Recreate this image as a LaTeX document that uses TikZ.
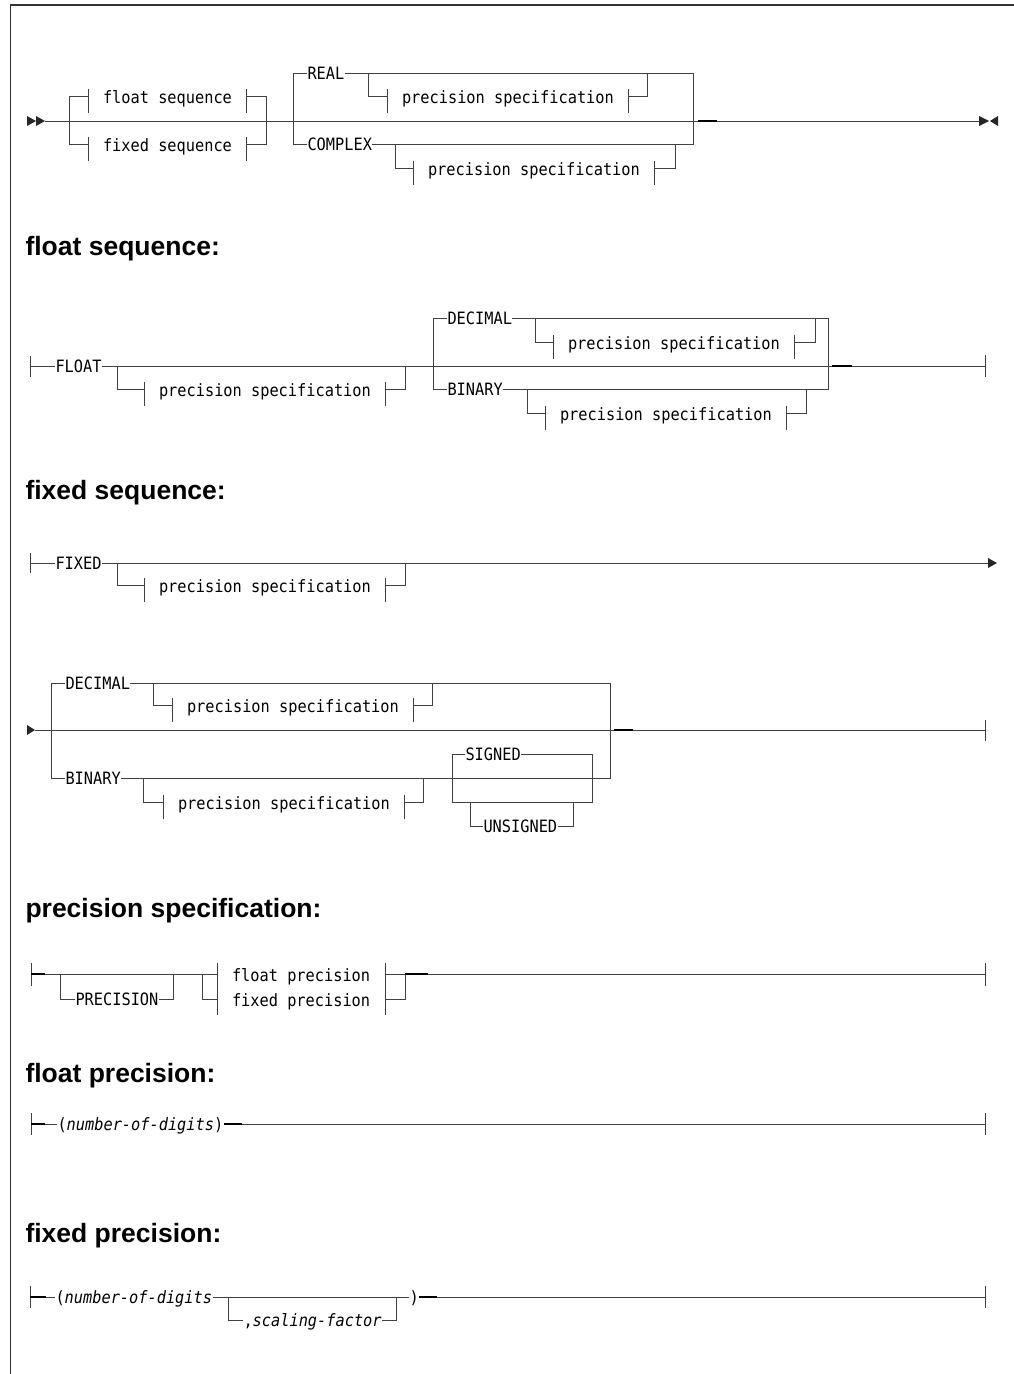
\documentclass[tikz,border=0pt]{standalone}
\usepackage{fontspec}
\setmainfont{Liberation Sans}
\setmonofont{DejaVu Sans Mono}[FakeStretch=0.9]
\usetikzlibrary{positioning}

\newcommand\diagfont{\ttfamily\fontsize{17}{20}\selectfont}
\newcommand\headfont{\bfseries\fontsize{26.5}{30}\selectfont}
% bars on both sides of a reference box
\newcommand\bars[1]{\draw (#1.north west) -- ++(0,24) (#1.north east) -- ++(0,24);}

\begin{document}
\begin{tikzpicture}[x=1pt,y=-1pt,line width=1pt,color=black!75]
\tikzstyle{kw}=[font=\diagfont, text=black, inner sep=0pt, text height=12.4pt, text depth=0pt, anchor=west]
\tikzstyle{nt}=[font=\diagfont, text=black, inner xsep=14.5pt, inner ysep=0pt, text height=14pt, text depth=0pt, anchor=west]
\tikzstyle{hd}=[font=\headfont, text=black, inner sep=0pt, anchor=base west]
\tikzstyle{thk}=[line width=2pt, draw=black]
\tikzstyle{tip}=[fill=black!85]

\useasboundingbox (0,0) rectangle (1014,1374);
\draw[line width=1.3pt, black!80] (10.5,1374) -- (10.5,5) -- (1014,5);

% main statement
\fill[tip] (27,116) -- (36,121) -- (27,126) -- cycle (36,116) -- (45,121) -- (36,126) -- cycle;
\draw (45,121) -- (979,121);
\fill[tip] (979,116) -- (989,121) -- (979,126) -- cycle (998,116) -- (990,121) -- (998,126) -- cycle;
\node[nt] (fseq) at (88,96) {float sequence};
\node[nt] (xseq) at (88,144) {fixed sequence};
\bars{fseq} \bars{xseq}
\draw (fseq.west) -| (69,144) -- (xseq.west);
\draw (fseq.east) -| (266,144) -- (xseq.east);
\node[kw] (real) at (307,73) {REAL};
\node[kw] (cplx) at (307,144) {COMPLEX};
\draw (real.west) -| (293,144) -- (cplx.west);
\draw (real.east) -| (693,144) -- (cplx.east);
\node[nt] (rprec) at (387,96) {precision specification};
\node[nt] (cprec) at (413,168) {precision specification};
\bars{rprec} \bars{cprec}
\draw (368,73) |- (rprec.west) (rprec.east) -| (647,73);
\draw (395,144) |- (cprec.west) (cprec.east) -| (675,144);
\draw[thk] (698,121) -- (717,121);

% float sequence
\node[hd] (h1) at (25,255) {float sequence:};
\draw (30,356) -- (30,377) (985,355) -- (985,377);
\node[kw] (float) at (55,366) {FLOAT};
\draw (30,366) -- (float.west) (float.east) -- (985,366);
\node[nt] (fprec) at (144,389) {precision specification};
\bars{fprec}
\draw (117,366) |- (fprec.west) (fprec.east) -| (405,366);
\node[kw] (dec) at (447,318) {DECIMAL};
\node[kw] (bin) at (447,389) {BINARY};
\draw (dec.west) -| (433,389) -- (bin.west);
\draw (dec.east) -| (828,389) -- (bin.east);
\node[nt] (dprec) at (553,342) {precision specification};
\node[nt] (bprec) at (545,413) {precision specification};
\bars{dprec} \bars{bprec}
\draw (535,318) |- (dprec.west) (dprec.east) -| (815,318);
\draw (527,389) |- (bprec.west) (bprec.east) -| (806,389);
\draw[thk] (832,366) -- (852,366);

% fixed sequence
\node[hd] (h2) at (25,499) {fixed sequence:};
\draw (30,553) -- (30,573);
\node[kw] (fixed) at (55,563) {FIXED};
\draw (30,563) -- (fixed.west) (fixed.east) -- (988,563);
\fill[tip] (988,558) -- (997,563) -- (988,568) -- cycle;
\node[nt] (xprec) at (144,585) {precision specification};
\bars{xprec}
\draw (117,563) |- (xprec.west) (xprec.east) -| (405,563);

\fill[tip] (27,725) -- (35,730) -- (27,735) -- cycle;
\draw (35,730) -- (985,730) (985,720) -- (985,741);
\node[kw] (dec2) at (65,683) {DECIMAL};
\node[kw] (bin2) at (65,778) {BINARY};
\draw (dec2.west) -| (51,778) -- (bin2.west);
\draw (dec2.east) -| (610,778) -- (bin2.east);
\node[nt] (dprec2) at (172,705) {precision specification};
\node[nt] (bprec2) at (163,802) {precision specification};
\bars{dprec2} \bars{bprec2}
\draw (153,683) |- (dprec2.west) (dprec2.east) -| (432,683);
\draw (143,778) |- (bprec2.west) (bprec2.east) -| (423,778);
\node[kw] (sgn) at (465,754) {SIGNED};
\node[kw] (usgn) at (483,826) {UNSIGNED};
\draw (sgn.west) -| (452,802) -- (592,802) |- (sgn.east);
\draw (470,802) |- (usgn.west) (usgn.east) -| (573,802);
\draw[thk] (614,730) -- (633,730);

% precision specification
\node[hd] (h3) at (25,917) {precision specification:};
\draw (31,963) -- (31,986) (985,963) -- (985,986);
\draw[thk] (31,974) -- (45,974);
\node[nt] (flp) at (217,974) {float precision};
\node[nt] (fxp) at (217,999) {fixed precision};
\draw (flp.north west) ++(0,-4) -- ++(0,52) (flp.north east) ++(0,-4) -- ++(0,52);
\draw (45,974) -- (flp.west) (202,974) |- (fxp.west);
\draw (flp.east) -- (405,974) (fxp.east) -| (405,974);
\node[kw] (prec) at (75,999) {PRECISION};
\draw (60,974) |- (prec.west) (prec.east) -| (173,974);
\draw[thk] (405,974) -- (428,974);
\draw (428,974) -- (985,974);

% float precision
\node[hd] (h4) at (25,1082) {float precision:};
\draw (31,1113) -- (31,1135) (985,1113) -- (985,1135);
\draw[thk] (31,1124) -- (45,1124);
\node[kw] (fdig) at (57,1124) {(\textit{number-of-digits})};
\draw (45,1124) -- (fdig.west);
\draw[thk] (fdig.east) -- (242,1124);
\draw (242,1124) -- (985,1124);

% fixed precision
\node[hd] (h5) at (25,1242) {fixed precision:};
\draw (30,1286) -- (30,1308) (985,1286) -- (985,1308);
\draw[thk] (30,1297) -- (46,1297);
\node[kw] (xdig) at (55,1297) {(\textit{number-of-digits}};
\node[kw] (close) at (409,1297) {)};
\node[kw] (scal) at (243,1320) {,\textit{scaling-factor}};
\draw (46,1297) -- (xdig.west) (xdig.east) -- (close.west);
\draw (228,1297) |- (scal.west) (scal.east) -| (396,1297);
\draw[thk] (close.east) -- (437,1297);
\draw (437,1297) -- (985,1297);
\end{tikzpicture}
\end{document}
